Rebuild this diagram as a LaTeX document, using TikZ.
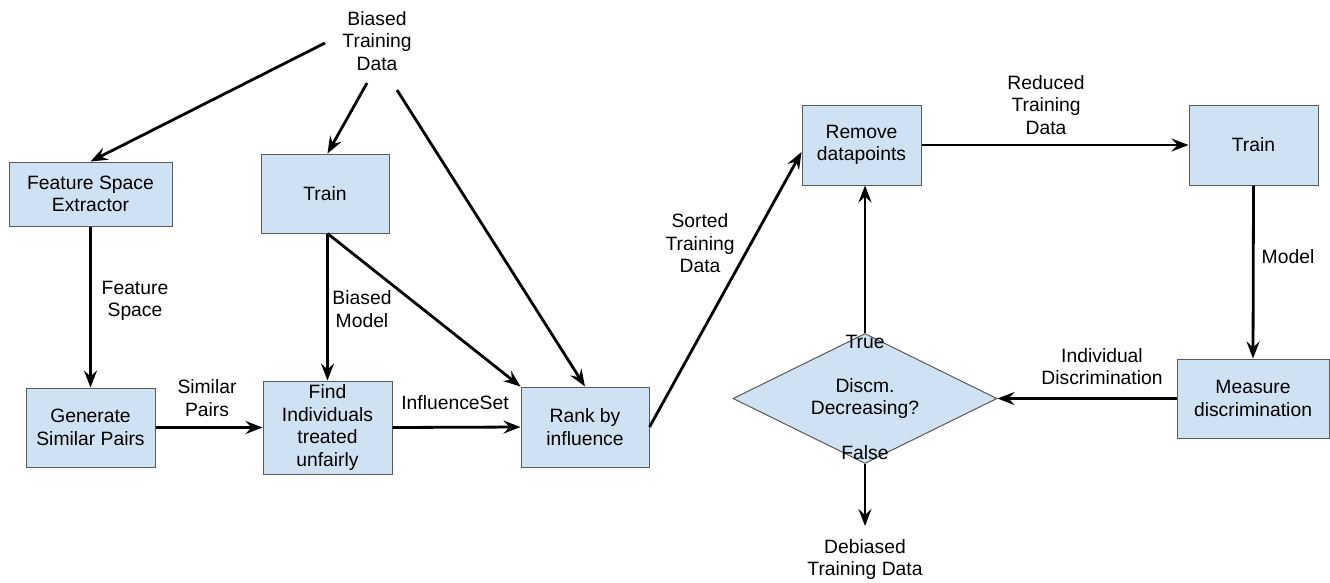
\documentclass[tikz,border=0pt]{standalone}
\usepackage{fontspec}
\setmainfont{Liberation Sans}
\usetikzlibrary{arrows.meta,shapes.geometric,calc}
\definecolor{boxfill}{HTML}{CFE2F3}
\definecolor{boxline}{HTML}{595959}
\begin{document}
\begin{tikzpicture}[x=1pt,y=-1pt,
  every node/.style={font=\fontsize{19.3}{22.5}\selectfont, align=center, inner sep=0pt},
  box/.style={draw=boxline, line width=1pt, fill=boxfill},
  dec/.style={shape=diamond, draw=boxline, line width=1pt, fill=boxfill, aspect=2},
  arr/.style={line width=2.8pt, -{Stealth[length=17pt,width=13pt,inset=6pt]}}]
\useasboundingbox (0,0) rectangle (1330,582);

% boxes
\node[box, minimum width=163pt, minimum height=64pt] (fse) at (90.5,194) {Feature Space\\Extractor};
\node[box, minimum width=128pt, minimum height=79pt] (tra) at (325,193.5) {Train};
\node[box, minimum width=129pt, minimum height=79pt] (gsp) at (90.5,427.5) {Generate\\Similar Pairs};
\node[box, minimum width=129pt, minimum height=93pt] (find) at (327.5,427.5) {Find\\Individuals\\treated\\unfairly};
\node[box, minimum width=128pt, minimum height=80pt] (rank) at (585,427) {Rank by\\influence};
\node[box, minimum width=119pt, minimum height=80pt] (rem) at (861.5,145) {Remove\\datapoints};
\node[box, minimum width=129pt, minimum height=80pt] (tr2) at (1253.5,145) {Train};
\node[box, minimum width=152pt, minimum height=79pt] (meas) at (1253,398.5) {Measure\\discrimination};
\node[dec, minimum width=264pt, minimum height=130pt] (dsc) at (865,398.5) {Discm.\\Decreasing?};

% free texts
\node (src) at (377,41) {Biased\\Training\\Data};
\node (deb) at (865,559.5) {Debiased\\Training Data};

% connector ends
\coordinate (b1) at (325,43);
\coordinate (b2) at (367,83);
\coordinate (b3) at (397,90);
\coordinate (dend) at (865,526);

% connectors
\draw[arr] (b1) -- (fse.north);
\draw[arr] (b2) -- (tra.north -| find.north);
\draw[arr] (b3) -- (rank.north);
\draw[arr] (tra.south -| find.north) -- (find.north);
\draw[arr] (tra.south -| find.north) -- (rank.north west);
\draw[arr] (fse.south) -- (gsp.north);
\draw[arr] (gsp.east) -- (find.west);
\draw[arr] (find.east) -- (rank.west);
\draw[arr] (rank.east) -- ([yshift=-7pt]rem.west);
\draw[arr] (rem.east) -- (tr2.west);
\draw[arr] (tr2.south) -- (meas.north);
\draw[arr] (meas.west) -- (dsc.east);
\draw[arr] (dsc.north) -- (dsc.north |- rem.south);
\draw[arr] (dsc.south) -- (dend);

% labels
\node at (135,301) {Feature\\Space};
\node at (362,309) {Biased\\Model};
\node at (207,398) {Similar\\Pairs};
\node at (455,403) {InfluenceSet};
\node at (700,243.5) {Sorted\\Training\\Data};
\node at (1046,105) {Reduced\\Training\\Data};
\node at (1288,257) {Model};
\node at (1102,366.5) {Individual\\Discrimination};
\node at (865,342) {True};
\node at (865,453) {False};
\end{tikzpicture}
\end{document}
